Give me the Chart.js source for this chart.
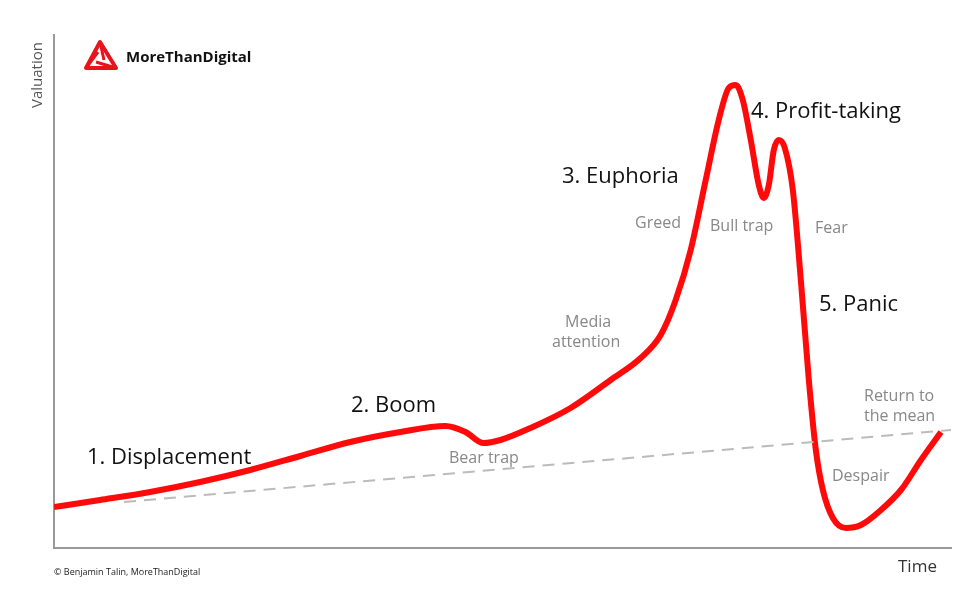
<!DOCTYPE html>
<html>
<head>
<meta charset="utf-8">
<script src="https://cdn.jsdelivr.net/npm/chart.js@4"></script>
<style>
  html, body { margin: 0; padding: 0; background: #fff; }
  #wrap { width: 980px; height: 601px; }
</style>
</head>
<body>
<div id="wrap"><canvas id="chart"></canvas></div>
<script>
// Bubble cycle curve; units are arbitrary (time 0..896, valuation 0..513)
const timeX = [0, 46, 96, 146, 196, 246, 296, 346, 391, 411, 429, 446, 476, 516, 556, 586, 606, 621, 636, 651, 664, 674, 681, 688, 696, 704, 709, 714, 719, 724, 730, 738, 746, 754, 761, 768, 778, 791, 806, 826, 846, 866, 886];
const valueY = [41, 48, 56, 66, 78, 92, 106, 116, 122, 116, 105, 108, 120, 140, 168, 190, 213, 248, 298, 368, 428, 460, 463, 448, 408, 363, 350, 363, 398, 408, 400, 358, 268, 168, 98, 58, 30, 20, 23, 38, 58, 88, 116];
const trendX = [70, 896];
const trendY = [46, 118];

const labels = [
  { text: "1. Displacement", x: 87, y: 458, size: 22, color: "#111" },
  { text: "2. Boom", x: 351, y: 406, size: 22, color: "#111" },
  { text: "Bear trap", x: 449, y: 458, size: 16, color: "#888" },
  { text: "Media", x: 565, y: 322, size: 16, color: "#888" },
  { text: "attention", x: 552, y: 342, size: 16, color: "#888" },
  { text: "3. Euphoria", x: 562, y: 177, size: 22, color: "#111" },
  { text: "Greed", x: 635, y: 223, size: 16, color: "#888" },
  { text: "Bull trap", x: 710, y: 226, size: 16, color: "#888" },
  { text: "Fear", x: 815, y: 228, size: 16, color: "#888" },
  { text: "4. Profit-taking", x: 751, y: 112, size: 22, color: "#111" },
  { text: "5. Panic", x: 819, y: 305, size: 22, color: "#111" },
  { text: "Return to", x: 864, y: 396, size: 16, color: "#888" },
  { text: "the mean", x: 864, y: 416, size: 16, color: "#888" },
  { text: "Despair", x: 832, y: 476, size: 16, color: "#888" },
  { text: "Time", x: 898, y: 567, size: 17, color: "#333" },
  { text: "© Benjamin Talin, MoreThanDigital", x: 54, y: 572, size: 9, color: "#222" },
];

const textPlugin = {
  id: "texts",
  afterDraw(chart) {
    const ctx = chart.ctx;
    ctx.save();
    ctx.textBaseline = "middle";
    labels.forEach(l => {
      ctx.font = `${l.size}px "Open Sans", sans-serif`;
      ctx.fillStyle = l.color;
      ctx.fillText(l.text, l.x, l.y);
    });
    // y axis title
    ctx.translate(38, 75);
    ctx.rotate(-Math.PI / 2);
    ctx.font = '15px "Open Sans", sans-serif';
    ctx.fillStyle = "#555";
    ctx.textAlign = "center";
    ctx.fillText("Valuation", 0, 0);
    ctx.restore();
    // logo
    ctx.save();
    ctx.strokeStyle = "#e8141c";
    ctx.lineWidth = 4;
    ctx.lineJoin = "round";
    ctx.beginPath();
    ctx.moveTo(100, 42); ctx.lineTo(116, 68); ctx.lineTo(86, 68); ctx.closePath();
    ctx.stroke();
    ctx.beginPath();
    ctx.moveTo(100, 42); ctx.lineTo(104, 60); ctx.moveTo(116, 68); ctx.lineTo(96, 62); ctx.moveTo(86, 68); ctx.lineTo(98, 52);
    ctx.lineWidth = 3;
    ctx.stroke();
    ctx.font = 'bold 15px "Open Sans", sans-serif';
    ctx.fillStyle = "#111";
    ctx.textBaseline = "middle";
    ctx.fillText("MoreThanDigital", 126, 58);
    ctx.restore();
  },
};

new Chart(document.getElementById("chart"), {
  type: "line",
  data: {
    datasets: [{
      data: trendX.map((x, i) => ({ x, y: trendY[i] })),
      borderColor: "#bbb",
      borderWidth: 2,
      borderDash: [12, 8],
      pointRadius: 0,
    }, {
      data: timeX.map((x, i) => ({ x, y: valueY[i] })),
      borderColor: "#ff0a0a",
      borderWidth: 6,
      pointRadius: 0,
      tension: 0.4,
      cubicInterpolationMode: "monotone",
    }],
  },
  plugins: [textPlugin],
  options: {
    responsive: true,
    maintainAspectRatio: false,
    animation: false,
    layout: { padding: { left: 46, right: 29, top: 35, bottom: 45 } },
    plugins: { legend: { display: false }, tooltip: { enabled: false } },
    scales: {
      x: {
        type: "linear", min: 0, max: 896,
        ticks: { display: false },
        grid: { display: false },
        border: { color: "#999", width: 2 },
      },
      y: {
        min: 0, max: 513,
        ticks: { display: false },
        grid: { display: false },
        border: { color: "#999", width: 2 },
      },
    },
  },
});
</script>
</body>
</html>
